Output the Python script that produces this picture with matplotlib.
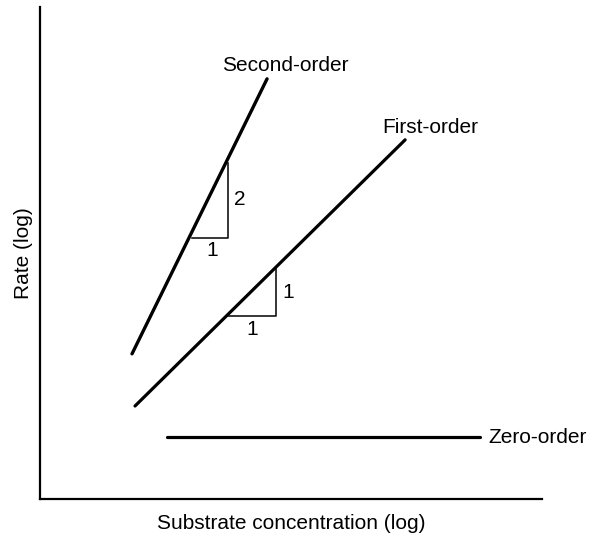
import matplotlib
matplotlib.use("Agg")
import matplotlib.pyplot as plt

plt.rcParams['font.family'] = ['Liberation Sans', 'DejaVu Sans']

# log substrate concentration (x) vs log rate (y), arbitrary units
second_x = [1.83, 4.52]
second_y = [2.95, 8.54]
first_x = [1.89, 7.27]
first_y = [1.89, 7.30]
zero_x = [2.53, 8.76]
zero_y = [1.26, 1.26]

# slope triangles: left corner, right corner, top corner
tri2_x = [3.03, 3.75, 3.75]
tri2_y = [5.30, 5.30, 6.83]
tri1_x = [3.75, 4.70, 4.70]
tri1_y = [3.72, 3.72, 4.67]

fig = plt.figure(figsize=(5.9, 5.38), dpi=100)
ax = fig.add_axes([0.068, 0.0725, 0.851, 0.9145])

ax.plot(second_x, second_y, color="black", lw=2.4, solid_capstyle="round")
ax.plot(first_x, first_y, color="black", lw=2.3, solid_capstyle="round")
ax.plot(zero_x, zero_y, color="black", lw=2.3, solid_capstyle="round")

ax.plot(tri2_x, tri2_y, color="black", lw=1.1)
ax.plot(tri1_x, tri1_y, color="black", lw=1.1)

fs = 15
ax.text(3.62, 8.82, "Second-order", fontsize=fs, va="center", ha="left")
ax.text(6.81, 7.56, "First-order", fontsize=fs, va="center", ha="left")
ax.text(8.93, zero_y[0], "Zero-order", fontsize=fs, va="center", ha="left")

ax.text(3.98, 6.09, "2", fontsize=fs, va="center", ha="center")
ax.text(3.42, 5.05, "1", fontsize=fs, va="center", ha="center")
ax.text(4.95, 4.20, "1", fontsize=fs, va="center", ha="center")
ax.text(4.22, 3.45, "1", fontsize=fs, va="center", ha="center")

ax.set_xlim(0, 10)
ax.set_ylim(0, 10)
ax.set_xticks([])
ax.set_yticks([])
ax.spines['top'].set_visible(False)
ax.spines['right'].set_visible(False)
ax.spines['left'].set_linewidth(1.6)
ax.spines['bottom'].set_linewidth(1.6)

ax.set_xlabel("Substrate concentration (log)", fontsize=fs, labelpad=11)
ax.set_ylabel("Rate (log)", fontsize=fs, labelpad=5)

fig.savefig("out.png", dpi=100)
